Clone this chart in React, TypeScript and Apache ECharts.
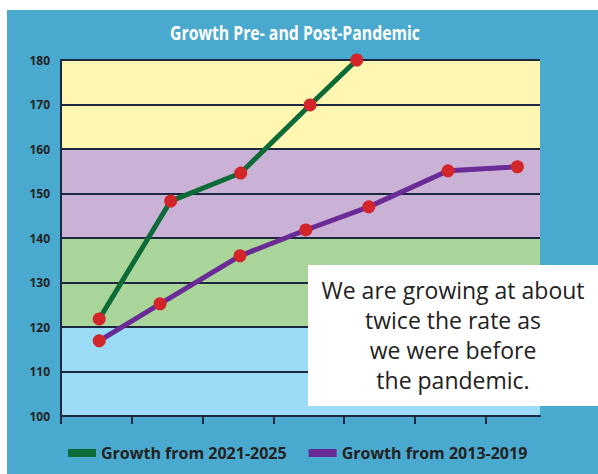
import React, { useEffect, useRef } from "react";
import * as echarts from "echarts";

const yTicks = [100, 110, 120, 130, 140, 150, 160, 170, 180];
const xTickPositions = [0, 1, 2, 3, 4, 5, 6];

const postName = "Growth from 2021-2025";
const postX = [0.54, 1.55, 2.54, 3.52, 4.18];
const postY = [121.8, 148.3, 154.6, 169.9, 180];

const preName = "Growth from 2013-2019";
const preX = [0.54, 1.4, 2.53, 3.46, 4.35, 5.47, 6.45];
const preY = [116.9, 125.2, 136.0, 141.8, 147.0, 155.1, 156.0];

// one colour per 10-unit interval, bottom to top
const bandColors = [
  "#9bdbf6", "#9bdbf6",
  "#a9d59b", "#a9d59b",
  "#c9b2d6", "#c9b2d6",
  "#fff6b1", "#fff6b1",
];

const titleText = "Growth Pre- and Post-Pandemic";
const noteLines = [
  "We are growing at about",
  "twice the rate as",
  "we were before",
  "the pandemic.",
];

const DARK = "#1d2740";
const GREEN = "#0d6b38";
const PURPLE = "#6a2b96";
const RED = "#d2262b";

export default function App() {
  const ref = useRef<HTMLDivElement>(null);
  useEffect(() => {
    if (!ref.current) return;
    const chart = echarts.init(ref.current, null, { renderer: "svg" });
    const pair = (xs: number[], ys: number[]) => xs.map((x, i) => [x, ys[i]]);
    chart.setOption({
      animation: false,
      backgroundColor: "#ffffff",
      legend: {
        data: [
          { name: postName, itemStyle: { color: GREEN } },
          { name: preName, itemStyle: { color: PURPLE } },
        ],
        left: 68,
        top: 445,
        padding: 0,
        icon: "rect",
        itemWidth: 28,
        itemHeight: 8,
        itemGap: 22,
        textStyle: {
          color: "#222222",
          fontSize: 16,
          fontWeight: "bold",
          fontFamily: '"Open Sans", sans-serif',
        },
      },
      grid: { left: 61, right: 58, top: 60, bottom: 58 },
      xAxis: {
        type: "value",
        min: 0,
        max: 6.77,
        interval: 1,
        axisLine: { show: true, lineStyle: { color: DARK, width: 2 } },
        axisTick: {
          show: true,
          length: 8,
          customValues: xTickPositions,
          lineStyle: { color: DARK, width: 2 },
        },
        axisLabel: { show: false },
        splitLine: { show: false },
      },
      yAxis: {
        type: "value",
        min: yTicks[0],
        max: yTicks[yTicks.length - 1],
        interval: 10,
        axisLine: { show: true, lineStyle: { color: DARK, width: 2 } },
        axisTick: { show: false },
        axisLabel: {
          color: "#222222",
          fontSize: 12,
          fontWeight: "bold",
          margin: 11,
          fontFamily: '"Open Sans", sans-serif',
        },
        splitLine: { show: true, lineStyle: { color: DARK, width: 2 } },
        splitArea: { show: true, areaStyle: { color: bandColors, opacity: 1 } },
      },
      graphic: [
        {
          type: "rect",
          z: -10,
          silent: true,
          shape: { x: 7, y: 10, width: 600, height: 470 },
          style: { fill: "#4aa9cf" },
        },
        {
          type: "text",
          z: 100,
          x: 295,
          y: 22,
          scaleX: 0.79,
          style: {
            text: titleText,
            fill: "#ffffff",
            font: 'bold 20px "Open Sans", sans-serif',
            textAlign: "center",
          },
        },
        {
          type: "rect",
          z: 100,
          shape: { x: 308, y: 265, width: 300, height: 141 },
          style: { fill: "#ffffff" },
        },
        {
          type: "text",
          z: 101,
          x: 453,
          y: 275,
          style: {
            text: noteLines.join("\n"),
            fill: "#222222",
            font: '23px "Open Sans", sans-serif',
            textAlign: "center",
            lineHeight: 30,
          },
        },
      ],
      series: [
        {
          name: preName,
          type: "line",
          data: pair(preX, preY),
          clip: false,
          symbol: "circle",
          symbolSize: 13,
          lineStyle: { color: PURPLE, width: 5 },
          itemStyle: { color: RED },
          z: 3,
        },
        {
          name: postName,
          type: "line",
          data: pair(postX, postY),
          clip: false,
          symbol: "circle",
          symbolSize: 13,
          lineStyle: { color: GREEN, width: 5 },
          itemStyle: { color: RED },
          z: 4,
        },
      ],
    });
    return () => chart.dispose();
  }, []);
  return (
    <div
      ref={ref}
      style={{ position: "fixed", left: 0, top: 0, width: 598, height: 474 }}
    />
  );
}
